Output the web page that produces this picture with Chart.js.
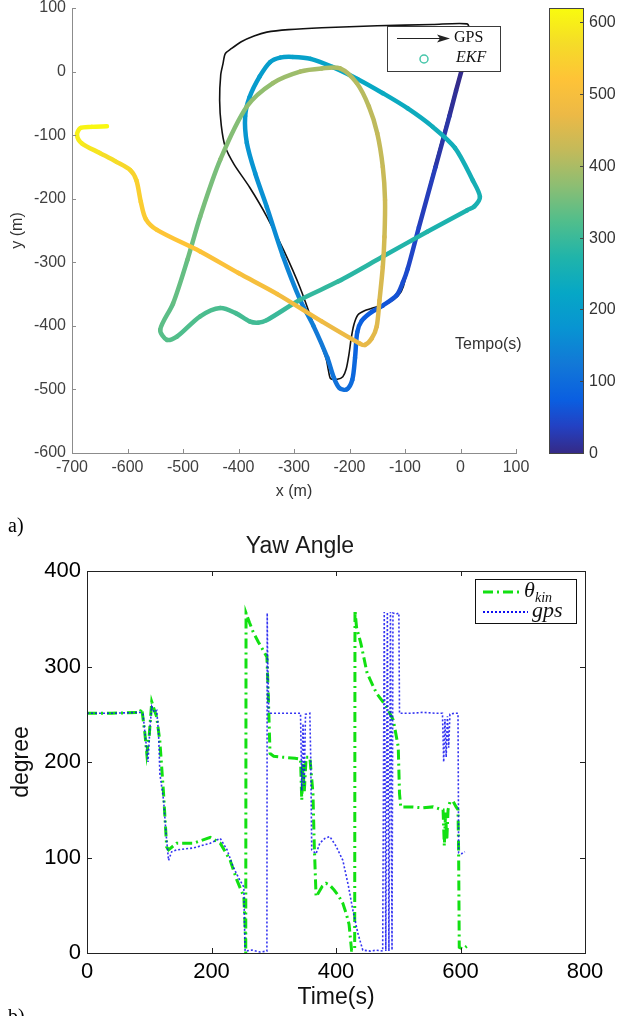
<!DOCTYPE html>
<html>
<head>
<meta charset="utf-8">
<script src="https://cdn.jsdelivr.net/npm/chart.js@4.4.1/dist/chart.umd.min.js"></script>
<style>
  html, body { margin: 0; padding: 0; background: #fff; }
  body { width: 618px; height: 1016px; position: relative; overflow: hidden; }
  canvas { position: absolute; left: 0; }
  #track { top: 0; }
  #yaw { top: 510px; }
  .tag { position: absolute; left: 8px; font-family: "Liberation Serif", "Times New Roman", serif; font-size: 20px; line-height: 20px; color: #000; }
</style>
</head>
<body>
<canvas id="track" width="618" height="510"></canvas>
<canvas id="yaw" width="618" height="506"></canvas>
<div class="tag" style="top:515px">a)</div>
<div class="tag" style="top:1006px">b)</div>
<script>
// ---- trajectory (x, y in metres, t = time in s used for colouring) ----
const ekfTrack = [
  [3,5,0],[-8,-30,6],[-20,-70,14],[-45,-150,26],[-75,-245,38],[-95,-310,46],[-104,-332,50],
  [-115,-352,56],[-140,-368,63],[-160,-378,69],[-178,-392,75],[-186,-410,80],[-190,-450,88],
  [-195,-485,96],[-205,-500,102],[-218,-498,107],[-228,-482,112],[-240,-450,120],[-265,-400,131],
  [-289,-359,140],[-320,-290,152],[-349,-213,164],[-370,-160,172],[-385,-112,179],[-388,-70,186],
  [-380,-40,190],[-362,-8,195],[-343,15,199],[-325,22,202],[-302,23,206],[-270,20,211],[-230,7,217],
  [-185,-12,224],[-140,-34,230],[-95,-58,236],[-50,-87,242],[-10,-120,247],[22,-171,253],[35,-197,256],
  [25,-212,259],[12,-218,262],[-60,-252,270],[-140,-291,279],[-220,-330,288],[-289,-359,296],
  [-349,-391,304],[-365,-395,307],[-380,-393,309],[-405,-380,312],[-433,-372,315],[-469,-385,319],
  [-511,-417,324],[-529,-422,327],[-541,-406,330],[-518,-365,336],[-492,-296,344],[-469,-228,351],
  [-433,-139,361],[-385,-55,372],[-338,-18,382],[-289,0,391],[-250,5,398],[-217,5,403],[-187,-18,409],
  [-165,-55,415],[-150,-97,420],[-140,-150,426],[-136,-202,432],[-137,-260,438],[-140,-307,444],
  [-146,-360,451],[-151,-401,457],[-160,-420,461],[-172,-430,465],[-181,-428,468],[-250,-393,480],
  [-330,-350,494],[-400,-317,506],[-469,-283,517],[-547,-249,530],[-567,-232,536],[-576,-205,542],
  [-584,-171,549],[-595,-155,556],[-620,-142,566],[-650,-128,578],[-682,-113,592],[-691,-100,600],
  [-685,-89,606],[-665,-87,612],[-637,-86,618]
];
const gpsTrack = [
  [0,0],[-50,-160],[-103,-338],[-112,-352],[-130,-364],[-151,-370],[-172,-376],[-185,-383],
  [-192,-398],[-197,-420],[-201,-445],[-206,-468],[-212,-480],[-222,-484],[-234,-483],[-238,-470],
  [-242,-452],[-262,-405],[-289,-340],[-318,-282],[-349,-228],[-380,-182],[-408,-146],[-424,-118],
  [-431,-85],[-434,-45],[-432,-5],[-428,12],[-424,28],[-413,36],[-395,47],[-372,56],[-349,62],
  [-310,66],[-250,69],[-150,72],[-50,74],[12,75],[16,64],[4,8]
];
const tempoTicks = [0, 100, 200, 300, 400, 500, 600];
const tempoMax = 620;

// ---- yaw angle (time s, degrees) ----
const yawKin = [
  [0,251],[40,251],[85,252],[88,256],[93,230],[96,209],[100,228],[104,263],[108,255],[112,247],
  [117,222],[123,167],[128,111],[131,108],[144,115],[171,115],[198,121],[214,115],[230,97],[241,76],
  [248,65],[252,59],[254,27],[255,0],[255.5,356],[261,346],[267,336],[275,326],[283,317],[289,310],
  [291,275],[294,209],[300,206],[315,205],[334,204],[343,203],[345,160],[347,198],[349,168],[352,205],
  [358,205],[360,190],[363,167],[365,115],[368,59],[371,62],[378,70],[384,73],[390,71],[397,66],
  [404,60],[411,52],[417,40],[421,30],[425,3],[430,3],[430.5,359],[433,341],[440,324],[450,293],
  [465,272],[481,258],[492,244],[500,216],[502,167],[504,153],[520,153],[540,152],[556,153],[566,151],
  [572,150],[574,112],[576,147],[578,118],[580,150],[583,158],[588,159],[593,153],[596,150],[597,105],
  [598,6],[604,4],[610,7]
];
const yawGps = [
  [0,251],[40,251],[85,252],[90,250],[94,225],[98,200],[101,235],[104,258],[108,252],[112,254],
  [115,230],[117,188],[123,160],[127,125],[131,97],[136,106],[144,108],[171,110],[198,115],[214,120],
  [225,108],[235,90],[244,78],[252,69],[253,30],[254,2],[265,3],[278,1],[289,2],[289.5,356],
  [290,320],[291,285],[292,251],[300,251],[320,251],[343,251],[345,170],[347,240],[349,175],[351,250],
  [358,251],[359.5,200],[361,108],[368,104],[374,115],[382,120],[390,122],[400,112],[411,97],[420,70],
  [427,45],[435,21],[443,3],[455,2],[465,3],[475,2],[477.5,357],[480,2],[482.5,357],[485,2],
  [487.5,357],[490,3],[491.5,356],[497,355],[501,356],[502,251],[520,251],[540,252],[560,251],[571,251],
  [573,200],[575,245],[577,205],[579,248],[581,215],[583,250],[590,251],[596,251],[597,105],[602,104],
  [607,106]
];
const timeTicks = [0, 200, 400, 600, 800];
const degreeTicks = [0, 100, 200, 300, 400];

// parula-like colour map: [fraction, r, g, b]
const parulaStops = [
  [0.00, 53, 42, 135], [0.06, 35, 65, 195], [0.12, 10, 95, 225], [0.20, 18, 120, 215],
  [0.28, 8, 148, 210], [0.36, 6, 167, 198], [0.44, 32, 180, 170], [0.52, 80, 190, 140],
  [0.60, 140, 190, 115], [0.68, 195, 186, 90], [0.76, 236, 185, 70], [0.84, 254, 195, 55],
  [0.92, 245, 220, 40], [1.00, 249, 251, 14]
];
function parula(f) {
  f = Math.min(1, Math.max(0, f));
  for (let i = 1; i < parulaStops.length; i++) {
    const a = parulaStops[i - 1], b = parulaStops[i];
    if (f <= b[0]) {
      const k = (f - a[0]) / (b[0] - a[0]);
      const c = [1, 2, 3].map(j => Math.round(a[j] + (b[j] - a[j]) * k));
      return 'rgb(' + c.join(',') + ')';
    }
  }
  return 'rgb(249,251,14)';
}

Chart.defaults.font.family = '"Liberation Sans", Arial, sans-serif';
Chart.defaults.animation = false;

// fixed axis box sizes, no extra label overhang
function fixBox(w, h) {
  return s => {
    if (w != null) s.width = w;
    if (h != null) s.height = h;
    s.paddingTop = 0; s.paddingBottom = 0; s.paddingLeft = 0; s.paddingRight = 0;
  };
}

function inwardTicks(chart, color, len, box) {
  const { ctx, chartArea: a, scales } = chart;
  ctx.save();
  ctx.strokeStyle = color;
  ctx.lineWidth = 1;
  ctx.beginPath();
  scales.x.ticks.forEach(tk => {
    const px = Math.round(scales.x.getPixelForValue(tk.value)) + 0.5;
    ctx.moveTo(px, a.bottom); ctx.lineTo(px, a.bottom - len);
    if (box) { ctx.moveTo(px, a.top); ctx.lineTo(px, a.top + len); }
  });
  scales.y.ticks.forEach(tk => {
    const py = Math.round(scales.y.getPixelForValue(tk.value)) + 0.5;
    ctx.moveTo(a.left, py); ctx.lineTo(a.left + len, py);
    if (box) { ctx.moveTo(a.right, py); ctx.lineTo(a.right - len, py); }
  });
  ctx.stroke();
  if (box) {
    ctx.strokeRect(Math.round(a.left) + 0.5, Math.round(a.top) + 0.5,
      Math.round(a.right - a.left), Math.round(a.bottom - a.top));
  }
  ctx.restore();
}

// ---------- a) trajectory coloured by time ----------
const trackDecor = {
  id: 'trackDecor',
  afterDraw(chart) {
    const ctx = chart.ctx;
    inwardTicks(chart, '#8c8c8c', 4, false);

    // colour bar
    const cb = { left: 549, right: 583, top: 8, bottom: 453 };
    const grad = ctx.createLinearGradient(0, cb.bottom, 0, cb.top);
    parulaStops.forEach(s => grad.addColorStop(s[0], parula(s[0])));
    ctx.save();
    ctx.fillStyle = grad;
    ctx.fillRect(cb.left, cb.top, cb.right - cb.left, cb.bottom - cb.top);
    ctx.strokeStyle = '#444';
    ctx.lineWidth = 1;
    ctx.strokeRect(cb.left + 0.5, cb.top + 0.5, cb.right - cb.left, cb.bottom - cb.top);
    ctx.font = '16px "Liberation Sans", Arial, sans-serif';
    ctx.fillStyle = '#333';
    ctx.textAlign = 'left';
    ctx.textBaseline = 'middle';
    tempoTicks.forEach(v => {
      const py = Math.round(cb.bottom - v / tempoMax * (cb.bottom - cb.top)) + 0.5;
      ctx.beginPath();
      ctx.moveTo(cb.right, py); ctx.lineTo(cb.right - 3, py);
      ctx.stroke();
      ctx.fillText(String(v), cb.right + 6, py);
    });
    ctx.fillText('Tempo(s)', 455, 345);

    // legend
    const lg = { left: 387, top: 26, right: 500, bottom: 71 };
    ctx.fillStyle = '#fff';
    ctx.fillRect(lg.left, lg.top, lg.right - lg.left, lg.bottom - lg.top);
    ctx.strokeStyle = '#3a3a3a';
    ctx.strokeRect(lg.left + 0.5, lg.top + 0.5, lg.right - lg.left, lg.bottom - lg.top);
    ctx.strokeStyle = '#222';
    ctx.lineWidth = 1.2;
    ctx.beginPath();
    ctx.moveTo(397, 38.5); ctx.lineTo(446, 38.5);
    ctx.stroke();
    ctx.fillStyle = '#222';
    ctx.beginPath();
    ctx.moveTo(450, 38.5); ctx.lineTo(437, 34.5); ctx.lineTo(440, 38.5); ctx.lineTo(437, 42.5);
    ctx.closePath();
    ctx.fill();
    ctx.strokeStyle = 'rgb(70,198,170)';
    ctx.lineWidth = 1.5;
    ctx.beginPath();
    ctx.arc(424, 59, 4, 0, Math.PI * 2);
    ctx.stroke();
    ctx.fillStyle = '#111';
    ctx.font = '16px "Liberation Serif", "Times New Roman", serif';
    ctx.fillText('GPS', 454, 38);
    ctx.font = 'italic 16px "Liberation Serif", "Times New Roman", serif';
    ctx.fillText('EKF', 456, 58);
    ctx.restore();
  }
};

new Chart(document.getElementById('track'), {
  type: 'scatter',
  data: {
    datasets: [
      {
        label: 'EKF',
        data: ekfTrack.map(p => ({ x: p[0], y: p[1] })),
        showLine: true,
        pointRadius: 0,
        borderWidth: 4.5,
        tension: 0.3,
        borderCapStyle: 'round',
        borderJoinStyle: 'round',
        borderColor: parula(0.4),
        segment: {
          borderColor: c => parula((ekfTrack[c.p0DataIndex][2] + ekfTrack[c.p1DataIndex][2]) / 2 / tempoMax)
        }
      },
      {
        label: 'GPS',
        data: gpsTrack.map(p => ({ x: p[0], y: p[1] })),
        showLine: true,
        pointRadius: 0,
        borderWidth: 1.6,
        tension: 0.25,
        borderColor: '#111'
      }
    ]
  },
  options: {
    responsive: false,
    devicePixelRatio: 1,
    layout: { padding: { top: 8, right: 102, left: 0, bottom: 0 } },
    plugins: { legend: { display: false }, tooltip: { enabled: false } },
    scales: {
      x: {
        type: 'linear', min: -700, max: 100,
        afterFit: fixBox(null, 57),
        grid: { display: false, drawTicks: false },
        border: { color: '#8c8c8c', width: 1 },
        ticks: { stepSize: 100, color: '#404040', font: { size: 16 }, padding: 5, maxRotation: 0, autoSkip: false },
        title: { display: true, text: 'x (m)', color: '#333', font: { size: 16 }, padding: { top: 0, bottom: 9 } }
      },
      y: {
        type: 'linear', min: -600, max: 100,
        afterFit: fixBox(72, null),
        grid: { display: false, drawTicks: false },
        border: { color: '#8c8c8c', width: 1 },
        ticks: { stepSize: 100, color: '#404040', font: { size: 16 }, padding: 6, autoSkip: false },
        title: { display: true, text: 'y (m)', color: '#333', font: { size: 16 }, padding: { top: 8, bottom: 0 } }
      }
    }
  },
  plugins: [trackDecor]
});

// ---------- b) yaw angle ----------
const yawDecor = {
  id: 'yawDecor',
  afterDraw(chart) {
    const ctx = chart.ctx;
    inwardTicks(chart, '#222', 5, true);
    ctx.save();
    ctx.fillStyle = '#1a1a1a';
    ctx.font = '23px "Liberation Sans", Arial, sans-serif';
    ctx.textAlign = 'center';
    ctx.textBaseline = 'middle';
    ctx.fillText('Yaw Angle', 300, 37);

    // legend
    const lg = { left: 475, top: 69, right: 576, bottom: 113 };
    ctx.fillStyle = '#fff';
    ctx.fillRect(lg.left, lg.top, lg.right - lg.left, lg.bottom - lg.top);
    ctx.strokeStyle = '#111';
    ctx.lineWidth = 1;
    ctx.strokeRect(lg.left + 0.5, lg.top + 0.5, lg.right - lg.left, lg.bottom - lg.top);
    ctx.lineWidth = 3;
    ctx.strokeStyle = '#12e012';
    ctx.setLineDash([10, 4, 2, 4]);
    ctx.beginPath(); ctx.moveTo(483, 82); ctx.lineTo(523, 82); ctx.stroke();
    ctx.lineWidth = 2;
    ctx.strokeStyle = '#1010f0';
    ctx.setLineDash([2, 2]);
    ctx.beginPath(); ctx.moveTo(483, 102); ctx.lineTo(528, 102); ctx.stroke();
    ctx.setLineDash([]);
    ctx.fillStyle = '#111';
    ctx.textAlign = 'left';
    ctx.textBaseline = 'alphabetic';
    ctx.font = 'italic 22px "Liberation Serif", "Times New Roman", serif';
    ctx.fillText('\u03B8', 524, 87);
    ctx.font = 'italic 14px "Liberation Serif", "Times New Roman", serif';
    ctx.fillText('kin', 535, 92);
    ctx.font = 'italic 22px "Liberation Serif", "Times New Roman", serif';
    ctx.fillText('gps', 532, 107);
    ctx.restore();
  }
};

new Chart(document.getElementById('yaw'), {
  type: 'scatter',
  data: {
    datasets: [
      {
        label: '\u03B8kin',
        data: yawKin.map(p => ({ x: p[0], y: p[1] })),
        showLine: true,
        pointRadius: 0,
        borderWidth: 3,
        borderColor: '#12e012',
        borderDash: [10, 4, 2, 4],
        order: 1
      },
      {
        label: 'gps',
        data: yawGps.map(p => ({ x: p[0], y: p[1] })),
        showLine: true,
        pointRadius: 0,
        borderWidth: 1.6,
        borderColor: 'rgba(16,16,240,0.85)',
        borderDash: [2, 2],
        order: 0
      }
    ]
  },
  options: {
    responsive: false,
    devicePixelRatio: 1,
    layout: { padding: { top: 61, right: 33, left: 0, bottom: 0 } },
    plugins: { legend: { display: false }, tooltip: { enabled: false } },
    scales: {
      x: {
        type: 'linear', min: 0, max: 800,
        afterFit: fixBox(null, 63),
        afterBuildTicks: s => { s.ticks = timeTicks.map(v => ({ value: v })); },
        grid: { display: false, drawTicks: false },
        border: { display: false },
        ticks: { color: '#000', font: { size: 22 }, padding: 6, maxRotation: 0, autoSkip: false },
        title: { display: true, text: 'Time(s)', color: '#111', font: { size: 23 }, padding: { top: 0, bottom: 5 } }
      },
      y: {
        type: 'linear', min: 0, max: 400,
        afterFit: fixBox(87, null),
        afterBuildTicks: s => { s.ticks = degreeTicks.map(v => ({ value: v })); },
        grid: { display: false, drawTicks: false },
        border: { display: false },
        ticks: { color: '#000', font: { size: 22 }, padding: 6, autoSkip: false },
        title: { display: true, text: 'degree', color: '#111', font: { size: 23 }, padding: { top: 8, bottom: 0 } }
      }
    }
  },
  plugins: [yawDecor]
});
</script>
</body>
</html>
